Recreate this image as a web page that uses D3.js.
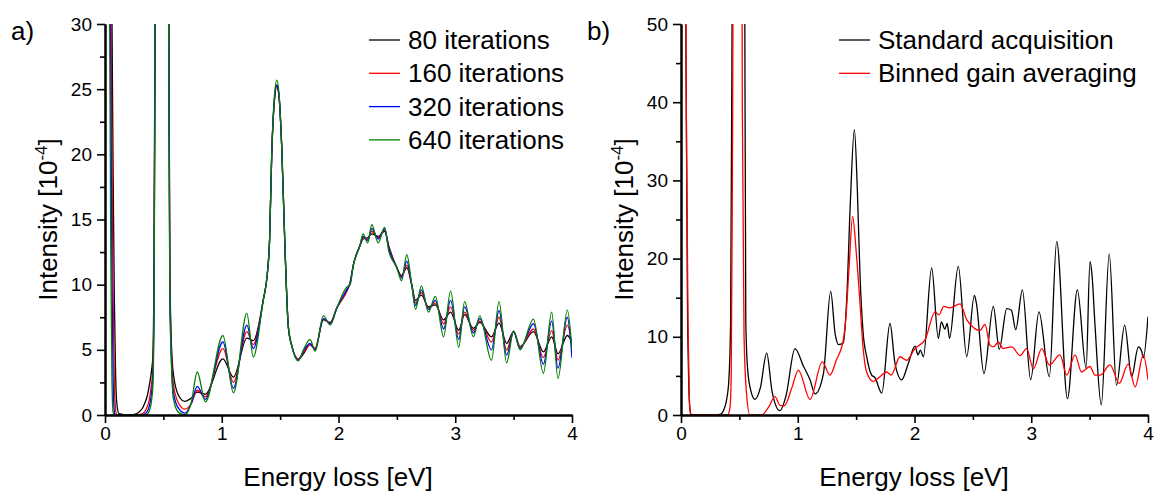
<!DOCTYPE html>
<html><head><meta charset="utf-8">
<script src="https://cdn.jsdelivr.net/npm/d3@7"></script>
<style>
html,body{margin:0;padding:0;background:#fff;}
text{font-family:"Liberation Sans",Arial,sans-serif;fill:#000;}
</style></head>
<body><svg id="chart" width="1157" height="493"></svg>
<script>
// ---------- Panel a data ----------
const energyA = [0,0.03,0.04,0.05,0.06,0.07,0.08,0.09,0.10,0.12,0.20,0.25,0.28,0.30,0.32,0.34,0.36,0.38,0.40,0.41,0.42,0.43,0.49,0.545,0.555,0.565,0.585,0.63,0.685,0.74,0.79,0.86,1.01,1.10,1.215,1.27,1.355,1.39,1.41,1.428,1.45,1.471,1.49,1.514,1.542,1.57,1.60,1.655,1.70,1.756,1.80,1.87,1.93,1.985,2.07,2.10,2.127,2.184,2.21,2.25,2.285,2.34,2.395,2.43,2.50,2.54,2.585,2.627,2.66,2.71,2.77,2.83,2.90,2.96,3.03,3.08,3.155,3.21,3.31,3.375,3.44,3.50,3.555,3.67,3.755,3.826,3.88,3.96,4.00];
const iter80  = [800,120,70,45,30,18,9,3.5,1,0.1,0,0.05,0.15,0.3,0.5,0.9,1.4,2.3,3.5,4.5,12,35,300,35,12,6.5,3.2,1.5,1.05,1.3,1.75,1.6,4.3,2.9,5.9,5.7,8.8,10.8,13.5,20,24,25.3,24.5,20.5,12.7,6.8,5.3,4.3,4.7,5.4,5.1,7.3,7.1,8.2,9.5,10.2,11.5,13.0,13.5,13.6,13.9,13.7,14.1,13.0,11.3,10.7,11.3,10.0,8.8,9.2,8.3,8.45,7.3,7.9,6.5,7.7,6.65,7.1,6.0,7.05,5.5,6.4,5.25,6.4,4.85,6.0,4.7,6.1,5.6];
const iter160 = [800,100,55,35,20,9,2.5,0.5,0.05,0,0,0,0.02,0.05,0.1,0.25,0.6,1.2,2.5,3.5,10,33,300,34,11,6,2.4,0.9,0.45,0.9,1.9,1.4,5.1,2.5,6.4,5.4,8.8,10.8,13.5,20,24,25.2,24.5,20.5,12.7,6.8,5.3,4.3,4.8,5.4,5.1,7.35,7.05,8.2,9.5,10.2,11.5,13.0,13.6,13.5,14.1,13.6,14.2,12.9,11.3,10.6,11.5,10.0,8.6,9.4,8.2,8.6,7.0,8.3,6.2,7.9,6.5,7.2,5.6,7.5,5.0,6.4,5.2,6.6,4.4,6.5,4.2,6.9,5.3];
const iter320 = [800,80,45,24,10,2.5,0.3,0,0,0,0,0,0,0,0.02,0.08,0.25,0.7,1.8,3,9,32,300,33,10,5.5,1.8,0.5,0.15,0.9,2.2,1.2,5.6,2.05,6.9,5.1,8.8,10.8,13.5,20,24.1,25.3,24.5,20.5,12.7,6.8,5.3,4.2,4.9,5.5,5.0,7.4,7.0,8.2,9.6,10.1,11.5,13.0,13.7,13.4,14.3,13.5,14.3,12.8,11.3,10.5,11.8,10.0,8.4,9.6,8.1,8.8,6.6,8.8,5.8,8.3,6.3,7.4,5.0,8.0,4.6,6.4,5.1,7.0,3.9,7.2,3.6,7.5,4.4];
const iter640 = [800,60,30,12,2.5,0.2,0,0,0,0,0,0,0,0,0,0,0.05,0.3,1.2,2.2,8,31,300,32,9,5,1.3,0.2,0.02,1.0,3.3,1.0,6.1,1.7,7.8,4.45,8.8,10.8,13.5,20,24.3,25.7,24.7,20.5,12.7,6.8,5.3,4.15,5.0,5.8,4.9,7.6,6.9,8.2,9.8,10.0,11.5,13.0,13.9,13.2,14.6,13.2,14.4,12.6,11.3,10.3,12.3,10.0,8.1,9.9,7.9,9.1,6.0,9.5,5.2,8.7,6.0,7.6,4.2,8.7,4.0,6.45,5.0,7.35,3.2,7.9,2.8,8.05,5.0];
const seriesNamesA = ["80 iterations","160 iterations","320 iterations","640 iterations"];
const seriesColorsA = ["#000000","#ff0000","#0000ff","#008000"];

// ---------- Panel b data ----------
const energyStd = [0,0.03,0.045,0.055,0.065,0.075,0.09,0.30,0.34,0.37,0.39,0.41,0.425,0.44,0.49,0.545,0.555,0.57,0.60,0.634,0.68,0.734,0.78,0.848,0.90,0.976,1.05,1.105,1.148,1.22,1.282,1.32,1.35,1.39,1.42,1.45,1.485,1.51,1.533,1.56,1.59,1.633,1.66,1.72,1.79,1.833,1.89,1.947,2.004,2.03,2.05,2.076,2.147,2.204,2.23,2.26,2.28,2.30,2.375,2.447,2.513,2.53,2.595,2.675,2.726,2.79,2.83,2.867,2.924,2.995,3.066,3.155,3.218,3.31,3.395,3.47,3.503,3.52,3.546,3.60,3.668,3.73,3.80,3.86,3.917,3.945,3.96,4.00];
const standardAcq = [800,100,40,15,5,1,0,0,0.1,0.8,1.9,4.5,12,60,300,60,12,6,3,2.0,3.5,7.9,3,0.55,2.5,8.5,6.2,4.5,2.7,5.3,15.8,10.4,9.0,9.2,15,27,36.5,29,18,10.5,7.5,5.1,4.8,2.8,11.7,6.6,4.5,6.6,8.8,7.7,8.3,7.45,18.8,9.8,11.9,11.0,11.7,9.8,19.0,7.45,15.3,14.3,5.3,13.9,8.4,13.6,13.4,10.9,16.0,4.5,13.2,4.9,22.2,2.1,16.0,6.0,19.6,18.0,11.5,1.3,20.6,3.8,11.5,4.9,8.7,8.2,7.3,12.6];
const energyBin = [0,0.03,0.05,0.06,0.07,0.08,0.09,0.40,0.42,0.43,0.44,0.49,0.525,0.54,0.56,0.59,0.69,0.75,0.805,0.85,0.885,0.95,1.005,1.105,1.21,1.276,1.33,1.39,1.41,1.44,1.47,1.50,1.53,1.56,1.59,1.647,1.704,1.76,1.80,1.876,1.933,2.004,2.09,2.176,2.21,2.25,2.304,2.39,2.447,2.504,2.56,2.604,2.647,2.675,2.718,2.76,2.833,2.904,2.96,3.018,3.09,3.155,3.246,3.304,3.375,3.43,3.503,3.546,3.59,3.675,3.754,3.83,3.89,3.96,4.00];
const binnedGain = [800,90,30,12,3,0.3,0,0,1,5,30,300,40,10,3,0,0,1.0,2.35,1.2,1.2,3.5,5.75,2.0,6.8,5.1,7.0,9.6,12,19,25.4,21,15,8.5,5.5,4.3,4.9,5.5,5.1,7.45,7.0,8.5,9.6,13.2,12.8,13.9,13.7,14.2,12.2,11.2,10.8,11.6,8.9,8.7,9.3,8.5,8.7,7.6,8.5,5.9,8.5,6.4,7.7,5.1,7.7,5.5,6.2,5.1,5.1,6.4,4.05,6.5,3.6,7.7,4.5];
const seriesNamesB = ["Standard acquisition","Binned gain averaging"];
const seriesColorsB = ["#000000","#ff0000"];

const xTicks = [0,1,2,3,4];
const xMinorTicks = [0.5,1.5,2.5,3.5];
const yTicksA = [0,5,10,15,20,25,30];
const yMinorA = [2.5,7.5,12.5,17.5,22.5,27.5];
const yTicksB = [0,10,20,30,40,50];
const yMinorB = [5,15,25,35,45];

const svg = d3.select("#chart");

function panel(opt){
  const g = svg.append("g");
  const x = d3.scaleLinear().domain([0,4]).range([opt.left, opt.left+467]);
  const y = d3.scaleLinear().domain([0,opt.ymax]).range([415,24]);
  const clipId = "clip"+opt.id;
  svg.append("clipPath").attr("id",clipId).append("rect")
    .attr("x",opt.left).attr("y",24).attr("width",467).attr("height",391);
  const line = d3.line().x(d=>x(d[0])).y(d=>y(d[1])).curve(d3.curveMonotoneX);
  const lines = g.append("g").attr("clip-path",`url(#${clipId})`);
  opt.series.forEach(s=>{
    lines.append("path").datum(s.xs.map((e,i)=>[e,s.ys[i]]))
      .attr("d",line).attr("fill","none").attr("stroke",s.color)
      .attr("stroke-width",1.3).attr("stroke-linejoin","round");
  });
  // axes
  const xAxis = g.append("g").attr("transform","translate(0,415)")
    .call(d3.axisBottom(x).tickValues(xTicks).tickSize(8).tickSizeOuter(0).tickPadding(3).tickFormat(d3.format("d")));
  g.append("g").attr("transform","translate(0,415)")
    .call(d3.axisBottom(x).tickValues(xMinorTicks).tickSize(5).tickSizeOuter(0).tickFormat(""));
  const yAxis = g.append("g").attr("transform",`translate(${opt.left},0)`)
    .call(d3.axisLeft(y).tickValues(opt.yticks).tickSize(8).tickSizeOuter(0).tickPadding(5).tickFormat(d3.format("d")));
  g.append("g").attr("transform",`translate(${opt.left},0)`)
    .call(d3.axisLeft(y).tickValues(opt.yminor).tickSize(5).tickSizeOuter(0).tickFormat(""));
  g.selectAll(".domain").attr("stroke","#000").attr("stroke-width",2);
  g.selectAll(".tick line").attr("stroke","#000").attr("stroke-width",1.6);
  g.selectAll(".tick text").attr("font-size",19).attr("font-family","Liberation Sans, Arial, sans-serif").attr("fill","#000");
  xAxis.selectAll(".tick text").attr("dy","0.75em");
  // titles
  g.append("text").attr("x",opt.left+233).attr("y",486).attr("text-anchor","middle")
    .attr("font-size",26).text("Energy loss [eV]");
  const yt = g.append("text").attr("transform",`translate(${opt.left-48},219.5) rotate(-90)`)
    .attr("text-anchor","middle").attr("font-size",26);
  yt.append("tspan").text("Intensity [10");
  yt.append("tspan").attr("font-size",17).attr("dy",-10).text("-4");
  yt.append("tspan").attr("dy",10).text("]");
  g.append("text").attr("x",opt.left-94).attr("y",40).attr("font-size",26).text(opt.label);
  // legend
  opt.series.forEach((s,i)=>{
    const ly = 40 + i*33.3;
    g.append("line").attr("x1",opt.legX).attr("x2",opt.legX+31).attr("y1",ly).attr("y2",ly)
      .attr("stroke",s.color).attr("stroke-width",1.3);
    g.append("text").attr("x",opt.legX+39).attr("y",ly).attr("dy","0.35em")
      .attr("font-size",26).text(s.name);
  });
}

panel({id:"a",left:105,ymax:30,yticks:yTicksA,yminor:yMinorA,label:"a)",legX:369,
  series:[iter80,iter160,iter320,iter640].map((ys,i)=>({xs:energyA,ys,color:seriesColorsA[i],name:seriesNamesA[i]}))});
panel({id:"b",left:681,ymax:50,yticks:yTicksB,yminor:yMinorB,label:"b)",legX:839,
  series:[{xs:energyStd,ys:standardAcq},{xs:energyBin,ys:binnedGain}].map((s,i)=>({...s,color:seriesColorsB[i],name:seriesNamesB[i]}))});
</script></body></html>
